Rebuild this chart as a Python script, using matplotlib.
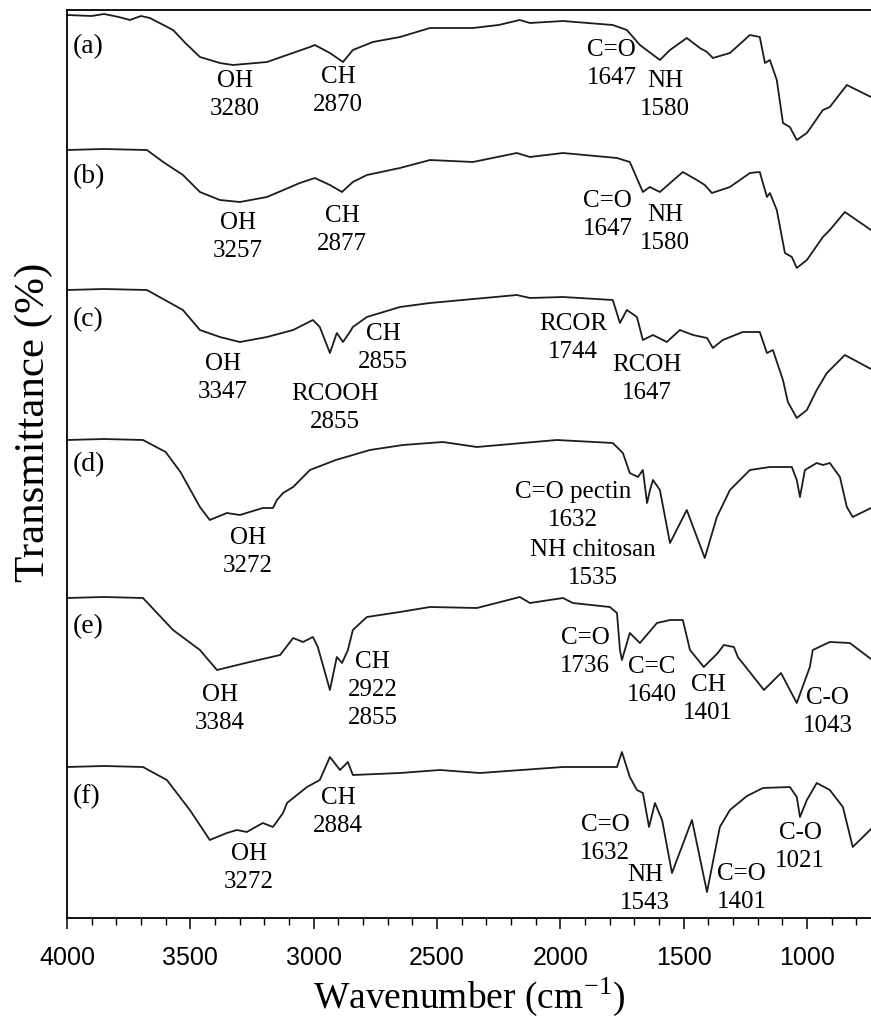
import matplotlib
matplotlib.use("Agg")
import matplotlib.pyplot as plt
from matplotlib.ticker import MultipleLocator

# FTIR spectra, stacked (offset transmittance, a.u.)
wn_a = [4000, 3900, 3850, 3790, 3745, 3700, 3664, 3570, 3520, 3461, 3380, 3327, 3189, 3015, 2995, 2934, 2881,
        2841, 2760, 2650, 2528, 2354, 2250, 2164, 2123, 1989, 1787, 1730, 1677, 1596, 1555, 1487, 1434,
        1405, 1381, 1312, 1231, 1191, 1170, 1150, 1122, 1097, 1069, 1041, 1000, 935, 907, 838, 740]
t_a = [903, 902, 904, 901, 898, 902, 900, 888, 875, 861, 855, 853, 856, 871, 873, 865, 856,
       868, 876, 881, 890, 890, 893, 898, 895, 897, 893, 888, 873, 858, 868, 880, 870,
       866, 860, 865, 883, 881, 855, 858, 838, 795, 791, 778, 785, 808, 811, 833, 821]

wn_b = [4000, 3850, 3676, 3610, 3530, 3461, 3380, 3299, 3189, 3056, 2995, 2934, 2885, 2841, 2784,
        2650, 2528, 2354, 2176, 2123, 1989, 1770, 1718, 1665, 1637, 1596, 1503, 1446, 1414, 1385,
        1312, 1231, 1191, 1162, 1150, 1122, 1089, 1061, 1041, 1000, 935, 907, 846, 740]
t_b = [768, 769, 768, 756, 743, 726, 718, 716, 721, 735, 740, 733, 726, 736, 743,
       750, 758, 756, 765, 761, 765, 760, 756, 726, 731, 726, 746, 738, 733, 725,
       731, 745, 746, 721, 725, 708, 665, 661, 650, 658, 681, 688, 706, 688]

wn_c = [4000, 3850, 3676, 3530, 3461, 3380, 3299, 3189, 3083, 3003, 2975, 2934, 2906, 2881, 2853,
        2841, 2784, 2650, 2528, 2176, 2123, 1989, 1787, 1758, 1730, 1689, 1665, 1624, 1568, 1515,
        1462, 1405, 1381, 1341, 1260, 1191, 1162, 1138, 1097, 1077, 1041, 1000, 960, 919, 846, 740]
t_c = [628, 629, 628, 608, 588, 581, 576, 581, 588, 598, 591, 565, 585, 576, 586,
       591, 601, 611, 615, 623, 620, 621, 618, 595, 608, 601, 578, 583, 576, 588,
       583, 580, 570, 578, 586, 586, 565, 568, 538, 516, 500, 508, 528, 545, 563, 549]

wn_d = [4000, 3850, 3692, 3600, 3540, 3461, 3421, 3352, 3299, 3259, 3206, 3165, 3149, 3124,
        3083, 3015, 2910, 2772, 2638, 2476, 2338, 2014, 1787, 1746, 1718, 1685, 1665, 1648, 1636,
        1624, 1596, 1555, 1487, 1414, 1365, 1312, 1231, 1150, 1061, 1041, 1028, 1008, 960, 935,
        907, 866, 838, 814, 740]
t_d = [478, 479, 478, 466, 446, 411, 398, 405, 403, 406, 410, 410, 418, 425,
       431, 448, 458, 468, 473, 476, 471, 478, 475, 465, 445, 441, 448, 415, 428,
       438, 428, 375, 408, 360, 401, 428, 448, 451, 451, 438, 421, 448, 455, 453,
       455, 441, 411, 401, 410]

wn_e = [4000, 3850, 3692, 3570, 3461, 3392, 3259, 3136, 3083, 3043, 3003, 2983, 2934, 2906, 2885,
        2861, 2841, 2784, 2650, 2528, 2338, 2164, 2123, 1989, 1949, 1799, 1770, 1758, 1750, 1718,
        1677, 1608, 1555, 1503, 1474, 1418, 1361, 1337, 1296, 1280, 1174, 1105, 1041, 988, 976,
        907, 826, 740]
t_e = [320, 321, 320, 288, 268, 248, 256, 263, 280, 276, 281, 271, 228, 261, 255,
       268, 288, 301, 306, 311, 310, 321, 315, 320, 315, 311, 305, 268, 258, 285,
       275, 295, 298, 298, 268, 251, 265, 273, 271, 261, 228, 245, 215, 251, 268,
       276, 275, 259]

wn_f = [4000, 3850, 3692, 3595, 3502, 3421, 3352, 3311, 3271, 3206, 3165, 3124, 3108, 3027, 2975,
        2934, 2893, 2861, 2841, 2650, 2488, 2326, 1989, 1770, 1750, 1718, 1689, 1665, 1640, 1616,
        1587, 1547, 1466, 1405, 1353, 1312, 1243, 1178, 1069, 1041, 1028, 1000, 960, 907, 854,
        814, 785, 740]
t_f = [151, 152, 151, 138, 108, 78, 85, 88, 86, 95, 91, 105, 115, 131, 138,
       161, 148, 156, 143, 145, 148, 145, 151, 151, 166, 141, 128, 125, 91, 115,
       98, 45, 98, 26, 91, 108, 122, 130, 131, 121, 101, 118, 135, 128, 111,
       71, 78, 89]

spectra = [(wn_a, t_a), (wn_b, t_b), (wn_c, t_c), (wn_d, t_d), (wn_e, t_e), (wn_f, t_f)]

panel_labels = ["(a)", "(b)", "(c)", "(d)", "(e)", "(f)"]
panel_y = [871, 741, 598, 453, 291, 121]

# peak annotations: text, wavenumber, level
peak_text = ["OH\n3280", "CH\n2870", "C=O\n1647", "NH\n1580",
             "OH\n3257", "CH\n2877", "C=O\n1647", "NH\n1580",
             "OH\n3347", "RCOOH\n2855", "CH\n2855", "RCOR\n1744", "RCOH\n1647",
             "OH\n3272", "C=O pectin\n1632", "NH chitosan\n1535",
             "OH\n3384", "CH\n2922\n2855", "C=O\n1736", "C=C\n1640", "CH\n1401", "C-O\n1043",
             "OH\n3272", "CH\n2884", "C=O\n1632", "NH\n1543", "C=O\n1401", "C-O\n1021"]
peak_x = [3319, 2901, 1791, 1576,
          3307, 2885, 1807, 1576,
          3368, 2914, 2719, 1949, 1649,
          3266, 1949, 1868,
          3380, 2760, 1900, 1628, 1401, 915,
          3262, 2901, 1819, 1657, 1264, 1028]
peak_y = [823, 827, 854, 823,
          681, 688, 703, 689,
          540, 510, 570, 580, 539,
          366, 412, 354,
          209, 228, 266, 237, 219, 206,
          50, 106, 79, 29, 30, 71]

plt.rcParams['mathtext.fontset'] = 'stix'

fig = plt.figure(figsize=(8.71, 10.18), dpi=100)
ax = fig.add_axes([67 / 871, 100 / 1018, 1 - 67 / 871, 908 / 1018])

for wn, t in spectra:
    ax.plot(wn, t, color='#1c1c1c', linewidth=1.3)

serif = ['Liberation Serif', 'DejaVu Serif']
for lab, y in zip(panel_labels, panel_y):
    ax.text(3978, y, lab, fontsize=20, family=serif, ha='left', va='center')

for txt, x, y in zip(peak_text, peak_x, peak_y):
    ax.text(x, y, txt, fontsize=18, family=serif, ha='center', va='center',
            linespacing=1.35)

ax.set_xlim(4000, 740)
ax.set_ylim(0, 908)
ax.xaxis.set_major_locator(MultipleLocator(500))
ax.xaxis.set_minor_locator(MultipleLocator(100))
ax.tick_params(axis='x', which='major', direction='out', length=8, width=1.1,
               labelsize=18, pad=12)
ax.tick_params(axis='x', which='minor', direction='out', length=5, width=1.0)
for lbl in ax.get_xticklabels():
    lbl.set_family(['Liberation Sans', 'DejaVu Sans'])
ax.set_yticks([])
ax.spines['right'].set_visible(False)
for s in ['left', 'bottom', 'top']:
    ax.spines[s].set_linewidth(1.3)

ax.set_xlabel(r'Wavenumber (cm$^{\mathregular{-1}}$)', fontsize=27, family=serif, labelpad=4)
ax.set_ylabel('Transmittance (%)', fontsize=31, family=serif)
ax.yaxis.set_label_coords(-0.017, 0.546)

fig.savefig('out.png', dpi=100)
